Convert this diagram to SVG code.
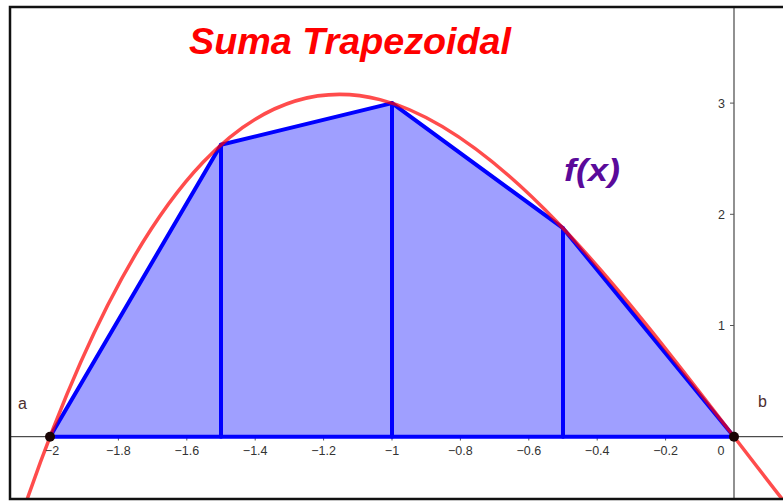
<svg xmlns="http://www.w3.org/2000/svg" width="783" height="501" viewBox="0 0 783 501">
<style>
.tick{stroke:#555;stroke-width:1}
.xl{font-family:"Liberation Sans",Arial,sans-serif;font-size:12.5px;fill:#333;text-anchor:middle}
.yl{font-family:"Liberation Sans",Arial,sans-serif;font-size:12.5px;fill:#333;text-anchor:end}
.pl{font-family:"Liberation Sans",Arial,sans-serif;font-size:16px;fill:#4d2e2e}
.blue{stroke:#0000ff;stroke-width:4;fill:none;stroke-linecap:round;stroke-linejoin:round}
</style>
<defs>
<clipPath id="frame"><rect x="10" y="7" width="773" height="492"/></clipPath>
</defs>
<rect x="0" y="0" width="783" height="501" fill="#ffffff"/>
<g id="plot" clip-path="url(#frame)">
<g id="axes">
<line x1="10" y1="436.7" x2="783" y2="436.7" stroke="#222" stroke-width="1"/>
<line x1="734" y1="7" x2="734" y2="499" stroke="#555" stroke-width="1.3"/>
<g class="tick">
<line x1="118.4" y1="436.7" x2="118.4" y2="440.5"/>
<line x1="186.8" y1="436.7" x2="186.8" y2="440.5"/>
<line x1="255.2" y1="436.7" x2="255.2" y2="440.5"/>
<line x1="323.6" y1="436.7" x2="323.6" y2="440.5"/>
<line x1="392" y1="436.7" x2="392" y2="440.5"/>
<line x1="460.4" y1="436.7" x2="460.4" y2="440.5"/>
<line x1="528.8" y1="436.7" x2="528.8" y2="440.5"/>
<line x1="597.2" y1="436.7" x2="597.2" y2="440.5"/>
<line x1="665.6" y1="436.7" x2="665.6" y2="440.5"/>
<line x1="730" y1="103.1" x2="734" y2="103.1"/>
<line x1="730" y1="214.3" x2="734" y2="214.3"/>
<line x1="730" y1="325.5" x2="734" y2="325.5"/>
</g>
</g>
<g id="trapezoids">
<polygon points="50,436.7 221,144.8 392,103.1 563,228.2 734,436.7" fill="#9f9fff" stroke="none"/>
<polyline class="blue" points="50,436.7 221,144.8 392,103.1 563,228.2 734,436.7 50,436.7"/>
<line class="blue" x1="221" y1="436.7" x2="221" y2="144.8"/>
<line class="blue" x1="392" y1="436.7" x2="392" y2="103.1"/>
<line class="blue" x1="563" y1="436.7" x2="563" y2="228.2"/>
</g>
<g id="curve">
<path d="M26.06,502.29 C279.14,-226.35 532.22,179.45 785.3,503.04" fill="none" stroke="#ff0000" stroke-opacity="0.7" stroke-width="3.5"/>
</g>
<g id="labels">
<text class="xl" x="52" y="455">−2</text>
<text class="xl" x="118.4" y="455">−1.8</text>
<text class="xl" x="186.8" y="455">−1.6</text>
<text class="xl" x="255.2" y="455">−1.4</text>
<text class="xl" x="323.6" y="455">−1.2</text>
<text class="xl" x="392" y="455">−1</text>
<text class="xl" x="460.4" y="455">−0.8</text>
<text class="xl" x="528.8" y="455">−0.6</text>
<text class="xl" x="597.2" y="455">−0.4</text>
<text class="xl" x="665.6" y="455">−0.2</text>
<text class="xl" x="721" y="455">0</text>
<text class="yl" x="725" y="107.5">3</text>
<text class="yl" x="725" y="218.7">2</text>
<text class="yl" x="725" y="329.9">1</text>
</g>
<g id="point-a">
<circle cx="50" cy="436.7" r="5" fill="#1a0505"/>
<text class="pl" x="18" y="409">a</text>
</g>
<g id="point-b">
<circle cx="734" cy="436.7" r="5" fill="#1a0505"/>
<text class="pl" x="758" y="407">b</text>
</g>
<text id="fx" x="564" y="181" font-family="'Liberation Sans',Arial,sans-serif" font-size="32" font-weight="bold" font-style="italic" fill="#5a0a9a" textLength="56" lengthAdjust="spacingAndGlyphs">f(x)</text>
<text id="title" x="189" y="54" font-family="'Liberation Sans',Arial,sans-serif" font-size="37" font-weight="bold" font-style="italic" fill="#ff0000" textLength="322" lengthAdjust="spacingAndGlyphs">Suma Trapezoidal</text>
</g>
<g id="border" fill="none" stroke="#111" stroke-width="2.5">
<polyline points="800,7 10,7 10,499 800,499"/>
</g>
</svg>
